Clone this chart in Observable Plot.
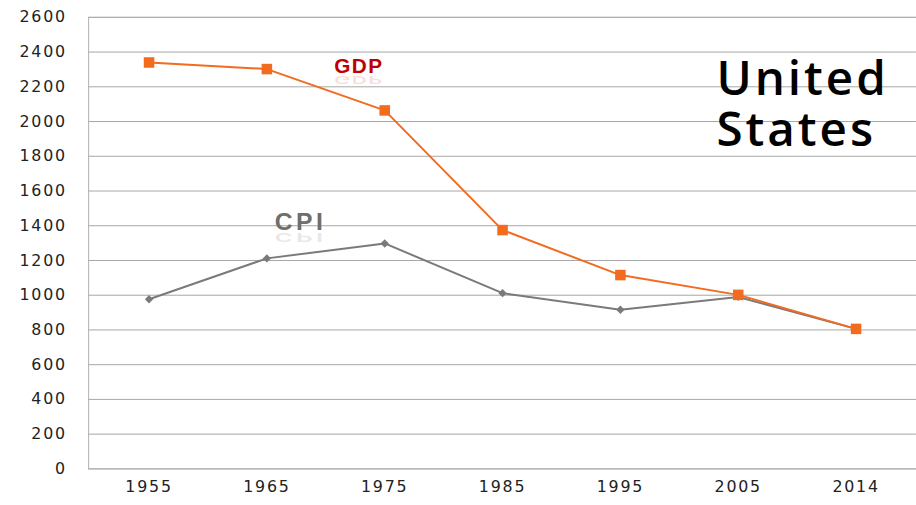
<!DOCTYPE html>
<html>
<head>
<meta charset="utf-8">
<script src="https://cdn.jsdelivr.net/npm/d3@7"></script>
<script src="https://cdn.jsdelivr.net/npm/@observablehq/plot@0.6"></script>
<style>
  html, body { margin: 0; padding: 0; background: #fff; width: 916px; height: 505px; overflow: hidden; }
  #chart { width: 916px; overflow: hidden; }
  [aria-label$="tick label"] text, [aria-label$="tick label"] { letter-spacing: 1.8px; font-size: 16px; fill: #222; }
</style>
</head>
<body>
<div id="chart"></div>
<script>
const years = ["1955", "1965", "1975", "1985", "1995", "2005", "2014"];
const gdp = [2340, 2302, 2064, 1375, 1116, 1002, 806];
const cpi = [977, 1212, 1298, 1012, 916, 990, 806];
const yTicks = [0, 200, 400, 600, 800, 1000, 1200, 1400, 1600, 1800, 2000, 2200, 2400, 2600];

const gdpData = years.map((y, i) => ({year: y, value: gdp[i]}));
const cpiData = years.map((y, i) => ({year: y, value: cpi[i]}));

const styled = (spacing, mirror) => (index, scales, values, dims, ctx, next) => {
  const g = next(index, scales, values, dims, ctx);
  d3.select(g).selectAll("text").each(function () {
    this.style.letterSpacing = spacing + "px";
    if (mirror) {
      const t = this.getAttribute("transform") || "";
      this.setAttribute("transform", t + " scale(1,-0.5)");
    }
  });
  return g;
};

const label = (txt, cx, base, spacing, mirror, opts) => Plot.text([txt], {
  frameAnchor: "top-left", dx: cx - 89, dy: base - 17, text: d => d,
  lineAnchor: "bottom", render: styled(spacing, mirror), ...opts
});

const chart = Plot.plot({
  width: 925,
  height: 505,
  marginLeft: 89,
  marginRight: 0,
  marginTop: 17,
  marginBottom: 32,
  style: {fontFamily: "DejaVu Sans", background: "#fff"},
  x: {type: "point", domain: years, padding: 0.5, label: null},
  y: {domain: [0, 2600], label: null},
  marks: [
    Plot.gridY(yTicks, {stroke: "#a6a6a6", strokeOpacity: 1}),
    Plot.frame({stroke: "#b0b0b0"}),
    Plot.axisY({ticks: yTicks, tickFormat: d => String(d), tickSize: 0, tickPadding: 22, label: null}),
    Plot.axisX({tickSize: 0, tickPadding: 12, label: null}),
    Plot.line(cpiData, {x: "year", y: "value", stroke: "#7a7a7a", strokeWidth: 2}),
    Plot.dot(cpiData, {x: "year", y: "value", symbol: "diamond2", r: 3.8, fill: "#7a7a7a", stroke: "none"}),
    Plot.line(gdpData, {x: "year", y: "value", stroke: "#f26b1f", strokeWidth: 2}),
    Plot.dot(gdpData, {x: "year", y: "value", symbol: "square", r: 6, fill: "#f26b1f", stroke: "none"}),
    label("GDP", 362, 73, 1.5, false, {textAnchor: "middle", fontSize: 21, fontWeight: "bold", fontFamily: "Liberation Sans", fill: "#c00000"}),
    label("GDP", 362, 76, 1.5, true, {textAnchor: "middle", fontSize: 21, fontWeight: "bold", fontFamily: "Liberation Sans", fill: "#c00000", fillOpacity: 0.14}),
    label("CPI", 303, 232, 3.5, false, {textAnchor: "middle", fontSize: 25, fontWeight: "bold", fontFamily: "Liberation Sans", fill: "#6e6e6e"}),
    label("CPI", 303, 235, 3.5, true, {textAnchor: "middle", fontSize: 25, fontWeight: "bold", fontFamily: "Liberation Sans", fill: "#6e6e6e", fillOpacity: 0.16}),
    label("United", 723, 95, 3, false, {textAnchor: "start", fontSize: 48, fontWeight: 600, fontFamily: "Open Sans", fill: "#000"}),
    label("States", 723, 147, 3, false, {textAnchor: "start", fontSize: 48, fontWeight: 600, fontFamily: "Open Sans", fill: "#000"})
  ]
});
document.getElementById("chart").appendChild(chart);
</script>
</body>
</html>
